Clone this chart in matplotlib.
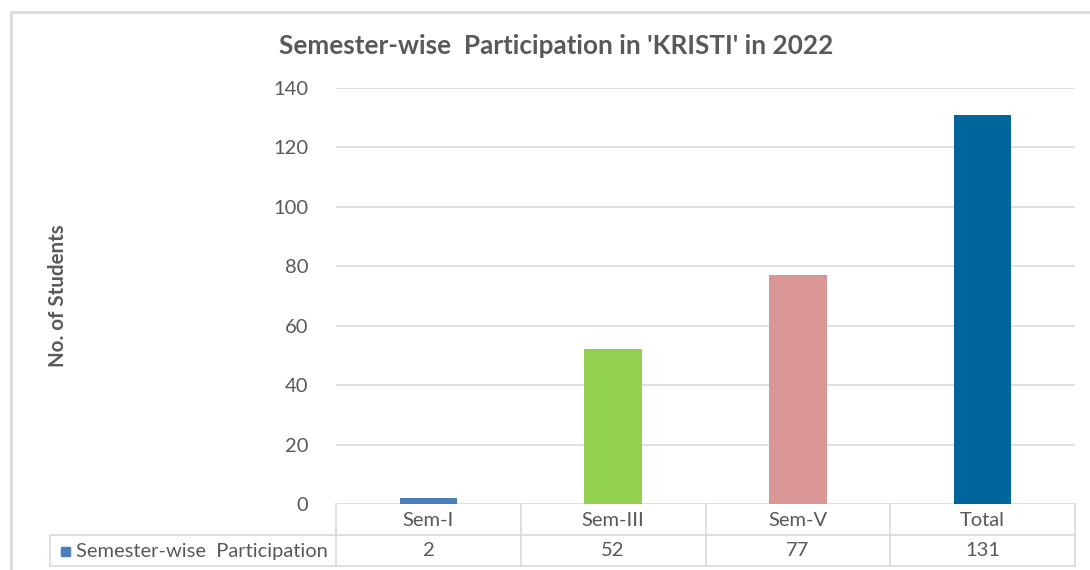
import matplotlib.pyplot as plt
from matplotlib import transforms
from matplotlib.lines import Line2D
from matplotlib.patches import Rectangle

# dane z wykresu
categories = ["Sem-I", "Sem-III", "Sem-V", "Total"]
participation = [2, 52, 77, 131]
bar_colors = ["#4a7ebb", "#92d050", "#d99694", "#00659a"]
series_name = "Semester-wise  Participation"
title = "Semester-wise  Participation in 'KRISTI' in 2022"
y_ticks = [0, 20, 40, 60, 80, 100, 120, 140]

plt.rcParams['font.family'] = ['Lato', 'DejaVu Sans']
W, H = 1090, 570
text_col = "#595959"
line_col = "#d9d9d9"
fs = 14.5

fig = plt.figure(figsize=(W / 100, H / 100), dpi=100)


def fx(px):
    return px / W


def fy(py):
    return 1 - py / H


ax = fig.add_axes([fx(336), fy(504), fx(1075 - 336), (504 - 88) / H])
x = list(range(len(categories)))
ax.bar(x, participation, width=0.31, color=bar_colors, zorder=3)
ax.set_xlim(-0.5, len(categories) - 0.5)
ax.set_ylim(0, 140)
ax.set_yticks(y_ticks)
ax.set_xticks([])
ax.tick_params(axis='y', length=0, pad=20, labelsize=fs, labelcolor=text_col)
ax.grid(axis='y', color=line_col, linewidth=1.2, zorder=0)
for s in ax.spines.values():
    s.set_visible(False)

fig.text(fx(556), fy(46), title, ha='center', va='center', fontsize=18.8,
         fontweight='bold', color=text_col)
fig.text(fx(58), fy(296), "No. of Students", ha='center', va='center',
         rotation=90, fontsize=14.8, fontweight='bold', color=text_col)

# tabela danych pod osią
tr = transforms.blended_transform_factory(ax.transData, fig.transFigure)
y_top, y_mid, y_bot = fy(504), fy(535), fy(566)
edges = [i - 0.5 for i in range(len(categories) + 1)]
for e in edges:
    fig.add_artist(Line2D([e, e], [y_top, y_bot], transform=tr,
                          color=line_col, linewidth=1.2))
for yy in (y_mid, y_bot):
    fig.add_artist(Line2D([fx(50), fx(1075)], [yy, yy], transform=fig.transFigure,
                          color=line_col, linewidth=1.2))
fig.add_artist(Line2D([fx(50), fx(50)], [y_mid, y_bot], transform=fig.transFigure,
                      color=line_col, linewidth=1.2))
for i, (cat, val) in enumerate(zip(categories, participation)):
    fig.text(i, fy(520), cat, transform=tr, ha='center', va='center',
             fontsize=fs, color=text_col)
    fig.text(i, fy(551), str(val), transform=tr, ha='center', va='center',
             fontsize=fs, color=text_col)
fig.add_artist(Rectangle((fx(61), fy(556)), fx(9), 9 / H,
                         transform=fig.transFigure, color=bar_colors[0]))
fig.text(fx(76), fy(551), series_name, ha='left', va='center',
         fontsize=fs, color=text_col)

# ramka wykresu
fig.add_artist(Line2D([fx(11), fx(11), fx(1090)], [0, fy(12), fy(12)],
                      transform=fig.transFigure, color=line_col, linewidth=2))

fig.savefig("out.png", dpi=100)
